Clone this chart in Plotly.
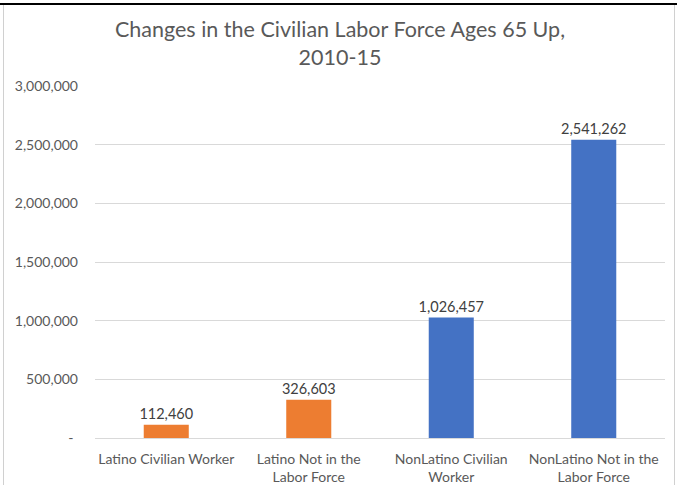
import plotly.graph_objects as go

# Change in civilian labor force, ages 65 and up, 2010-15
categories = [
    "Latino Civilian Worker",
    "Latino Not in the<br>Labor Force",
    "NonLatino Civilian<br>Worker",
    "NonLatino Not in the<br>Labor Force",
]
values = [112460, 326603, 1026457, 2541262]
bar_colors = ["#ED7D31", "#ED7D31", "#4472C4", "#4472C4"]

tick_vals = [0, 500000, 1000000, 1500000, 2000000, 2500000, 3000000]
tick_text = ["-\u2004", "500,000", "1,000,000", "1,500,000", "2,000,000", "2,500,000", "3,000,000"]

FONT = "Lato"
TEXT_GREY = "#595959"

W, H = 677, 485
ML, MR, MT, MB = 95, 12, 86, 47

fig = go.Figure(
    go.Bar(
        x=categories,
        y=values,
        marker=dict(color=bar_colors, line=dict(width=0)),
        text=[f"{v:,}" for v in values],
        textposition="outside",
        constraintext="none",
        textfont=dict(family=FONT, size=14.5, color="#404040"),
        cliponaxis=False,
        hoverinfo="skip",
    )
)

# Convert pixel positions to paper coordinates for the chart frame
pw, ph = W - ML - MR, H - MT - MB
def px_x(x):
    return (x - ML) / pw
def px_y(y):
    return (H - MB - y) / ph

fig.update_layout(
    width=W,
    height=H,
    margin=dict(l=ML, r=MR, t=MT, b=MB, autoexpand=False),
    paper_bgcolor="white",
    plot_bgcolor="white",
    bargap=0.684,
    showlegend=False,
    title=dict(
        text="Changes in the Civilian Labor Force Ages 65 Up,<br>2010-15",
        font=dict(family=FONT, size=21.5, color=TEXT_GREY),
        x=px_x(340), xref="paper", xanchor="center",
        y=1 - 37 / H, yref="container", yanchor="middle",
    ),
    xaxis=dict(
        showgrid=False,
        showline=True,
        linecolor="#D9D9D9",
        linewidth=1,
        ticks="",
        ticklabelstandoff=8,
        automargin=False,
        tickfont=dict(family=FONT, size=14, color=TEXT_GREY),
        fixedrange=True,
    ),
    yaxis=dict(
        range=[0, 3000000],
        tickvals=tick_vals,
        ticktext=tick_text,
        showgrid=True,
        gridcolor="#D9D9D9",
        gridwidth=1,
        zeroline=False,
        showline=False,
        ticks="",
        ticklabelstandoff=16,
        automargin=False,
        tickfont=dict(family=FONT, size=14, color=TEXT_GREY),
        fixedrange=True,
    ),
    shapes=[
        # top rule
        dict(type="line", xref="paper", yref="paper",
             x0=px_x(0), x1=px_x(677), y0=px_y(4), y1=px_y(4),
             line=dict(color="black", width=2)),
        # left and right frame edges
        dict(type="line", xref="paper", yref="paper",
             x0=px_x(3.5), x1=px_x(3.5), y0=px_y(5), y1=px_y(485),
             line=dict(color="#D0D0D0", width=1)),
        dict(type="line", xref="paper", yref="paper",
             x0=px_x(674.5), x1=px_x(674.5), y0=px_y(5), y1=px_y(485),
             line=dict(color="#D0D0D0", width=1)),
    ],
)

fig.write_html("out.html")
